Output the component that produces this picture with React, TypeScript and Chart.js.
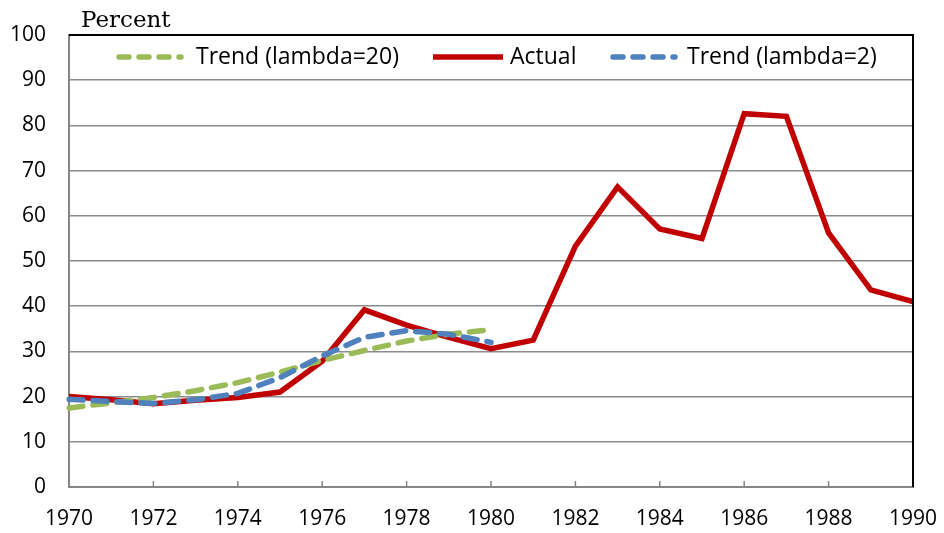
import React, { useEffect, useRef } from "react";
import { Chart, registerables } from "chart.js";

Chart.register(...registerables);

const years = [
  "1970", "1971", "1972", "1973", "1974", "1975", "1976", "1977", "1978", "1979", "1980",
  "1981", "1982", "1983", "1984", "1985", "1986", "1987", "1988", "1989", "1990",
];
const actual = [20.0, 19.3, 18.4, 19.2, 19.8, 21.0, 27.8, 39.2, 35.8, 33.1, 30.6, 32.5, 53.3, 66.4, 57.1, 55.0, 82.6, 82.0, 56.2, 43.6, 41.0];
const trendLambda20 = [17.5, 18.6, 19.8, 21.3, 23.1, 25.4, 28.0, 30.2, 32.3, 33.8, 34.8];
const trendLambda2 = [19.4, 18.9, 18.5, 19.3, 20.7, 24.2, 29.0, 33.1, 34.6, 33.8, 32.0];
const seriesNames = ["Trend (lambda=20)", "Actual", "Trend (lambda=2)"];
const yTitle = "Percent";

const GREEN = "#9BBB59";
const RED = "#C00000";
const BLUE = "#4F81BD";
const AXIS = "#868686";
const FONT = "'Open Sans', 'Noto Sans', sans-serif";

const decorPlugin = {
  id: "decor",
  afterDraw(chart: any) {
    const { ctx, chartArea } = chart;
    const xs = chart.scales.x;
    ctx.save();
    ctx.strokeStyle = "#000";
    ctx.lineWidth = 2;
    ctx.beginPath();
    ctx.moveTo(chartArea.left, chartArea.top);
    ctx.lineTo(chartArea.right, chartArea.top);
    ctx.lineTo(chartArea.right, chartArea.bottom);
    ctx.stroke();
    ctx.strokeStyle = AXIS;
    ctx.lineWidth = 1.5;
    for (let i = 2; i < years.length - 1; i += 2) {
      const px = xs.getPixelForValue(i);
      ctx.beginPath();
      ctx.moveTo(px, chartArea.bottom);
      ctx.lineTo(px, chartArea.bottom - 6);
      ctx.stroke();
    }
    ctx.fillStyle = "#000";
    ctx.font = "23px 'DejaVu Serif', serif";
    ctx.textBaseline = "alphabetic";
    ctx.textAlign = "left";
    ctx.fillText(yTitle, 81, 27);
    const ly = 57;
    const items = [
      { color: GREEN, dash: [10, 10], x0: 119, x1: 181, tx: 196 },
      { color: RED, dash: [], x0: 433, x1: 503, tx: 510 },
      { color: BLUE, dash: [10, 10], x0: 613, x1: 675, tx: 687 },
    ];
    items.forEach((it, i) => {
      ctx.strokeStyle = it.color;
      ctx.lineWidth = 5.5;
      ctx.lineCap = it.dash.length ? "round" : "butt";
      ctx.setLineDash(it.dash);
      ctx.beginPath();
      ctx.moveTo(it.x0, ly);
      ctx.lineTo(it.x1, ly);
      ctx.stroke();
      ctx.setLineDash([]);
      ctx.fillStyle = "#000";
      ctx.font = `23px ${FONT}`;
      ctx.textBaseline = "middle";
      ctx.fillText(seriesNames[i], it.tx, ly);
    });
    ctx.restore();
  },
};

export default function App() {
  const ref = useRef<HTMLCanvasElement | null>(null);
  useEffect(() => {
    if (!ref.current) return;
    const chart = new Chart(ref.current, {
      type: "line",
      data: {
        labels: years,
        datasets: [
          {
            label: seriesNames[0],
            data: trendLambda20,
            borderColor: GREEN,
            borderWidth: 5.5,
            borderDash: [14, 10],
            borderCapStyle: "round",
            pointRadius: 0,
            tension: 0,
            order: 1,
          },
          {
            label: seriesNames[1],
            data: actual,
            borderColor: RED,
            borderWidth: 5.5,
            pointRadius: 0,
            tension: 0,
            order: 2,
          },
          {
            label: seriesNames[2],
            data: trendLambda2,
            borderColor: BLUE,
            borderWidth: 5.5,
            borderDash: [14, 10],
            borderCapStyle: "round",
            pointRadius: 0,
            tension: 0,
            order: 0,
          },
        ],
      },
      options: {
        responsive: false,
        animation: false,
        layout: { padding: { left: 0, top: 35, right: 31, bottom: 0 } },
        plugins: { legend: { display: false }, tooltip: { enabled: false } },
        scales: {
          x: {
            type: "category",
            offset: false,
            grid: { display: false, drawTicks: false },
            border: { color: AXIS, width: 2 },
            ticks: {
              autoSkip: false,
              maxRotation: 0,
              padding: 19,
              color: "#000",
              font: { family: FONT, size: 21 },
              callback: (_v: any, i: number) => (i % 2 === 0 ? years[i] : ""),
            },
            afterFit: (s: any) => {
              s.height = 46;
              s.paddingLeft = 0;
              s.paddingRight = 0;
            },
          },
          y: {
            min: 0,
            max: 100,
            grid: { color: "#8c8c8c", lineWidth: 1.5, drawTicks: false },
            border: { color: AXIS, width: 2 },
            ticks: {
              stepSize: 10,
              padding: 23,
              color: "#000",
              font: { family: FONT, size: 21 },
            },
            afterFit: (s: any) => {
              s.width = 69;
              s.paddingTop = 0;
              s.paddingBottom = 0;
            },
          },
        },
      },
      plugins: [decorPlugin],
    });
    return () => chart.destroy();
  }, []);
  return (
    <div style={{ position: "absolute", left: 0, top: 0, width: 944, height: 533, background: "#fff" }}>
      <canvas ref={ref} width={944} height={533} style={{ display: "block" }} />
    </div>
  );
}
